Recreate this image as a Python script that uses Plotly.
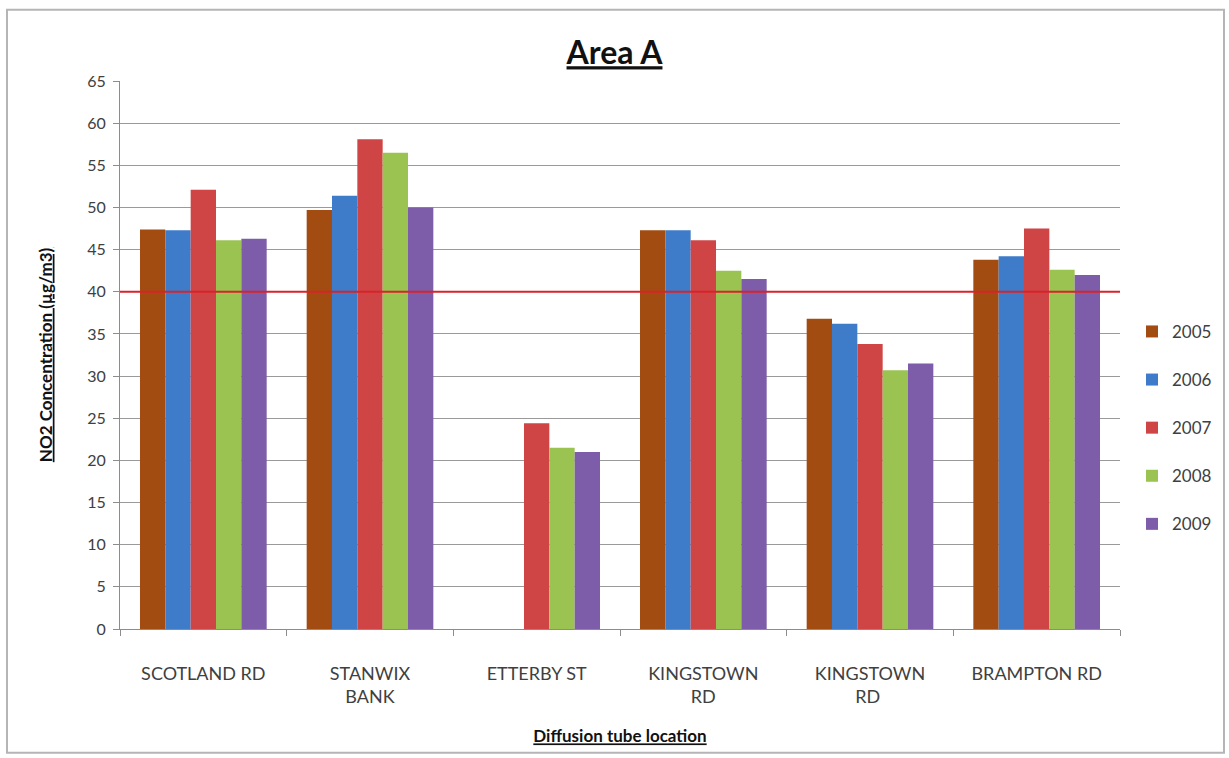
import plotly.graph_objects as go

# NO2 diffusion tube results, Area A
locations = ["SCOTLAND RD", "STANWIX<br>BANK", "ETTERBY ST", "KINGSTOWN<br>RD", "KINGSTOWN<br>RD ", "BRAMPTON RD"]
years = ["2005", "2006", "2007", "2008", "2009"]

no2_2005 = [47.4, 49.7, None, 47.3, 36.8, 43.8]
no2_2006 = [47.3, 51.4, None, 47.3, 36.2, 44.2]
no2_2007 = [52.1, 58.1, 24.4, 46.1, 33.8, 47.5]
no2_2008 = [46.1, 56.5, 21.5, 42.5, 30.7, 42.6]
no2_2009 = [46.3, 50.0, 21.0, 41.5, 31.5, 42.0]

objective = 40  # annual mean objective, µg/m3

series = [no2_2005, no2_2006, no2_2007, no2_2008, no2_2009]
colors = ["#A34C12", "#3E7BC8", "#CF4546", "#9BC352", "#7D5CA9"]

fig = go.Figure()
for yr, vals, col in zip(years, series, colors):
    fig.add_trace(go.Bar(
        x=locations, y=vals, name=yr, marker=dict(color=col, line=dict(width=0)),
        legendgroup=yr,
    ))

# objective line across the full plot width
fig.add_shape(type="line", xref="paper", x0=0, x1=1, yref="y", y0=objective, y1=objective,
              line=dict(color="#D8232A", width=2), layer="above")

# outer chart frame
fig.add_shape(type="rect", xref="paper", yref="paper", x0=-0.113, x1=1.104, y0=-0.226, y1=1.13,
              line=dict(color="#B5B5B5", width=2), layer="below")

font_family = "Lato, 'Open Sans', sans-serif"

fig.update_layout(
    width=1229, height=758,
    margin=dict(l=120, r=109, t=81, b=129),
    paper_bgcolor="white", plot_bgcolor="white",
    barmode="group", bargap=0.24, bargroupgap=0,
    font=dict(family=font_family, size=15, color="#404040"),
    title=dict(text="<b><u>Area A</u></b>", x=0.5, xanchor="center", y=0.93, yanchor="middle",
               font=dict(size=32, color="#111111", family=font_family)),
    xaxis=dict(
        showline=True, linecolor="#8C8C8C", linewidth=1,
        ticks="outside", tickson="boundaries", ticklen=6, tickcolor="#8C8C8C",
        tickfont=dict(size=18, color="#404040"), ticklabelstandoff=28,
        title=dict(text="<b><u>Diffusion tube location</u></b>", standoff=24,
                   font=dict(size=17, color="#111111")),
    ),
    yaxis=dict(
        range=[0, 65], dtick=5, showgrid=True, gridcolor="#9A9A9A", gridwidth=1,
        showline=True, linecolor="#8C8C8C", linewidth=1,
        ticks="outside", ticklen=6, tickcolor="#8C8C8C",
        tickfont=dict(size=16, color="#404040"), ticklabelstandoff=4,
        title=dict(text="<b><u>NO2 Concentration (µg/m3)</u></b>", standoff=30,
                   font=dict(size=17, color="#111111")),
        zeroline=False,
    ),
    legend=dict(x=1.012, xanchor="left", y=0.575, yanchor="top",
                font=dict(size=17, color="#404040"), tracegroupgap=23,
                itemwidth=30, bgcolor="rgba(0,0,0,0)"),
    showlegend=True,
)

fig.write_html("out.html")
